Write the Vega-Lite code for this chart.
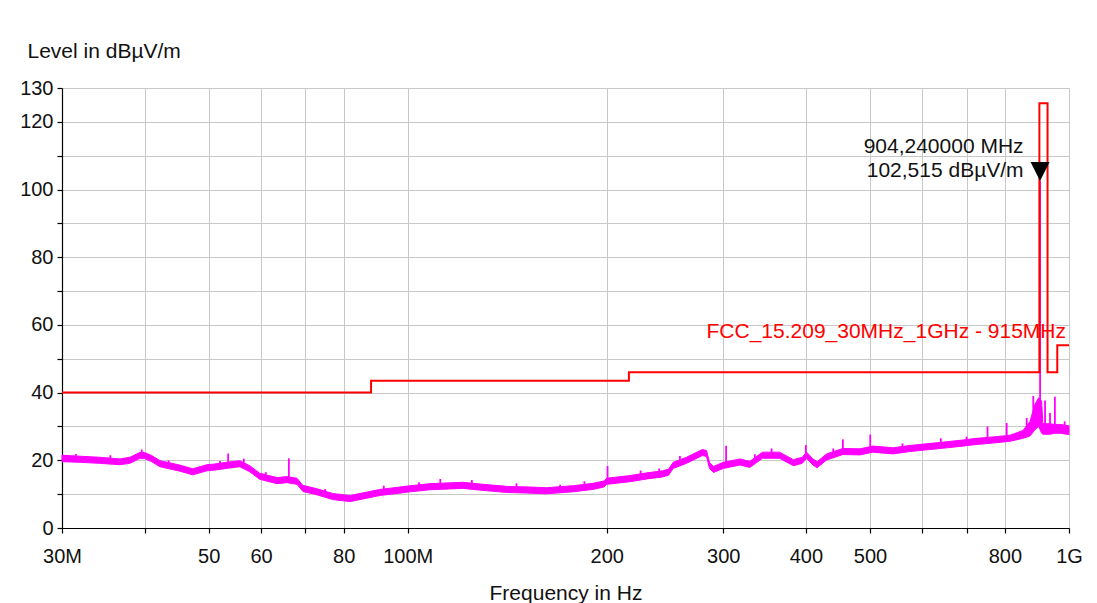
{
  "$schema": "https://vega.github.io/schema/vega-lite/v6.json",
  "autosize": "none",
  "width": 1007,
  "height": 440,
  "padding": {"left": 62, "top": 88, "right": 28, "bottom": 75},
  "background": "white",
  "config": {
    "font": "Liberation Sans",
    "view": {"stroke": null},
    "axis": {
      "gridColor": "#c8c8c8",
      "gridWidth": 1,
      "domainColor": "#000000",
      "domainWidth": 1.2,
      "tickColor": "#000000",
      "tickWidth": 1.2,
      "tickSize": 5,
      "labelFont": "Liberation Sans",
      "labelFontSize": 20,
      "labelColor": "#111111",
      "titleFont": "Liberation Sans",
      "titleFontSize": 21,
      "titleFontWeight": "normal",
      "titleColor": "#111111",
      "labelOverlap": false,
      "labelFlush": false,
      "labelBound": false
    }
  },
  "datasets": {
    "trace": [
      {"f": 30, "lo": 19.6, "hi": 21.5},
      {"f": 32, "lo": 19.4, "hi": 21.2},
      {"f": 34.2, "lo": 19.1, "hi": 20.9},
      {"f": 36.7, "lo": 18.7, "hi": 20.4},
      {"f": 38, "lo": 19.1, "hi": 20.9},
      {"f": 39.3, "lo": 20.5, "hi": 22.3},
      {"f": 40, "lo": 20.5, "hi": 22.3},
      {"f": 41, "lo": 19.6, "hi": 21.4},
      {"f": 42.2, "lo": 18.1, "hi": 19.9},
      {"f": 45.2, "lo": 16.8, "hi": 18.6},
      {"f": 47.3, "lo": 15.7, "hi": 17.5},
      {"f": 49.7, "lo": 16.9, "hi": 18.7},
      {"f": 51, "lo": 17.1, "hi": 18.9},
      {"f": 53.2, "lo": 17.6, "hi": 19.4},
      {"f": 55.7, "lo": 18.1, "hi": 19.9},
      {"f": 57.7, "lo": 16.6, "hi": 18.4},
      {"f": 59.7, "lo": 14.4, "hi": 16.2},
      {"f": 63.4, "lo": 13.1, "hi": 14.9},
      {"f": 65.6, "lo": 13.4, "hi": 15.2},
      {"f": 68, "lo": 12.9, "hi": 14.7},
      {"f": 69.4, "lo": 10.8, "hi": 12.6},
      {"f": 72.9, "lo": 9.8, "hi": 11.6},
      {"f": 77, "lo": 8.4, "hi": 10.2},
      {"f": 81.8, "lo": 7.8, "hi": 9.6},
      {"f": 86.7, "lo": 8.8, "hi": 10.6},
      {"f": 90.7, "lo": 9.6, "hi": 11.4},
      {"f": 97.3, "lo": 10.3, "hi": 12.1},
      {"f": 100, "lo": 10.6, "hi": 12.4},
      {"f": 108, "lo": 11.3, "hi": 13.1},
      {"f": 121, "lo": 11.7, "hi": 13.5},
      {"f": 128.5, "lo": 11.2, "hi": 13},
      {"f": 141, "lo": 10.5, "hi": 12.3},
      {"f": 153, "lo": 10.3, "hi": 12.1},
      {"f": 162, "lo": 10.1, "hi": 11.9},
      {"f": 178, "lo": 10.7, "hi": 12.5},
      {"f": 190.6, "lo": 11.4, "hi": 13.2},
      {"f": 198, "lo": 12.1, "hi": 13.9},
      {"f": 200, "lo": 12.9, "hi": 14.7},
      {"f": 217, "lo": 13.7, "hi": 15.5},
      {"f": 230, "lo": 14.5, "hi": 16.3},
      {"f": 243, "lo": 15.1, "hi": 16.9},
      {"f": 248, "lo": 15.6, "hi": 17.4},
      {"f": 252, "lo": 17.6, "hi": 19.4},
      {"f": 264, "lo": 19.1, "hi": 20.9},
      {"f": 279, "lo": 21.4, "hi": 23.2},
      {"f": 283, "lo": 21.1, "hi": 22.9},
      {"f": 286, "lo": 17.6, "hi": 19.4},
      {"f": 290, "lo": 16.4, "hi": 18.2},
      {"f": 300, "lo": 17.6, "hi": 19.4},
      {"f": 318, "lo": 18.6, "hi": 20.4},
      {"f": 329, "lo": 17.9, "hi": 19.7},
      {"f": 344, "lo": 20.6, "hi": 22.4},
      {"f": 365, "lo": 20.6, "hi": 22.4},
      {"f": 383, "lo": 18.4, "hi": 20.2},
      {"f": 395, "lo": 19.1, "hi": 20.9},
      {"f": 401, "lo": 20.6, "hi": 22.4},
      {"f": 410, "lo": 18.6, "hi": 20.4},
      {"f": 416, "lo": 17.8, "hi": 19.6},
      {"f": 430, "lo": 20.1, "hi": 21.9},
      {"f": 455, "lo": 21.7, "hi": 23.5},
      {"f": 483, "lo": 21.6, "hi": 23.4},
      {"f": 505, "lo": 22.4, "hi": 24.2},
      {"f": 542, "lo": 21.9, "hi": 23.7},
      {"f": 575, "lo": 22.6, "hi": 24.4},
      {"f": 610, "lo": 23.1, "hi": 24.9},
      {"f": 654, "lo": 23.7, "hi": 25.5},
      {"f": 684, "lo": 24.1, "hi": 25.9},
      {"f": 726, "lo": 24.7, "hi": 26.5},
      {"f": 767, "lo": 25.1, "hi": 26.9},
      {"f": 814, "lo": 25.6, "hi": 27.4},
      {"f": 852, "lo": 26.5, "hi": 28.8},
      {"f": 873, "lo": 27.2, "hi": 31.5},
      {"f": 888, "lo": 29, "hi": 36.5},
      {"f": 900, "lo": 30, "hi": 38.5},
      {"f": 909, "lo": 28, "hi": 37.5},
      {"f": 913, "lo": 27.7, "hi": 30.8},
      {"f": 936, "lo": 27.7, "hi": 30.8},
      {"f": 952, "lo": 28, "hi": 30.6},
      {"f": 969, "lo": 28, "hi": 30.6},
      {"f": 1000, "lo": 27.6, "hi": 30.2}
    ],
    "spikes": [
      {"f": 31.5, "base": 20, "top": 21.9},
      {"f": 35.5, "base": 19.5, "top": 21.5},
      {"f": 39.6, "base": 21, "top": 23.2},
      {"f": 43.5, "base": 18.5, "top": 20},
      {"f": 48.5, "base": 16.5, "top": 18.2},
      {"f": 52, "base": 17.5, "top": 19.8},
      {"f": 53.5, "base": 19, "top": 22},
      {"f": 56.5, "base": 18.5, "top": 20.5},
      {"f": 61, "base": 14.5, "top": 16.5},
      {"f": 66.1, "base": 14, "top": 20.6},
      {"f": 75, "base": 9.5, "top": 11.5},
      {"f": 92, "base": 10.5, "top": 12.5},
      {"f": 104, "base": 11.5, "top": 13.5},
      {"f": 112, "base": 12.5, "top": 14.5},
      {"f": 125, "base": 12.5, "top": 14.2},
      {"f": 146, "base": 11.5, "top": 13.2},
      {"f": 170, "base": 11, "top": 12.8},
      {"f": 185, "base": 12, "top": 13.8},
      {"f": 200.5, "base": 13.5, "top": 18.3},
      {"f": 225, "base": 15, "top": 17},
      {"f": 240, "base": 15.5, "top": 17.6},
      {"f": 258, "base": 19, "top": 21.3},
      {"f": 303, "base": 18.5, "top": 24.3},
      {"f": 335, "base": 19.5, "top": 21.8},
      {"f": 355, "base": 21.5, "top": 23.5},
      {"f": 400, "base": 21.5, "top": 24.5},
      {"f": 440, "base": 21.5, "top": 23.5},
      {"f": 455, "base": 22.5, "top": 26.2},
      {"f": 500.5, "base": 23, "top": 27.6},
      {"f": 560, "base": 23, "top": 25},
      {"f": 640, "base": 24.5, "top": 26.5},
      {"f": 700, "base": 25, "top": 27},
      {"f": 753, "base": 26, "top": 30},
      {"f": 805, "base": 26.5, "top": 31},
      {"f": 863, "base": 28, "top": 32.5},
      {"f": 883, "base": 30, "top": 39},
      {"f": 904.24, "base": 33, "top": 102.515},
      {"f": 920, "base": 29, "top": 37.7},
      {"f": 936, "base": 29, "top": 34},
      {"f": 952, "base": 29, "top": 38.8},
      {"f": 985, "base": 29, "top": 31.5}
    ],
    "limit": [
      {"f": 30, "level": 40},
      {"f": 88, "level": 43.5},
      {"f": 216, "level": 46},
      {"f": 902, "level": 125.5},
      {"f": 928, "level": 46},
      {"f": 960, "level": 54},
      {"f": 1000, "level": 54}
    ],
    "marker": [
      {"f": 904.24, "level": 102.515}
    ],
    "limitLabel": [
      {"f": 1000, "level": 54, "name": "FCC_15.209_30MHz_1GHz - 915MHz"}
    ]
  },
  "layer": [
    {
      "data": {"name": "trace"},
      "mark": {"type": "area", "color": "#ff00ff", "opacity": 1, "stroke": "#ff00ff", "strokeWidth": 1},
      "encoding": {
        "x": {
          "field": "f", "type": "quantitative",
          "scale": {"type": "log", "domain": [30, 1000], "nice": false, "zero": false},
          "axis": {
            "values": [30, 40, 50, 60, 70, 80, 100, 200, 300, 400, 500, 600, 700, 800, 1000],
            "tickCount": 40,
            "labelExpr": "datum.value == 30 ? '30M' : datum.value == 100 ? '100M' : datum.value == 1000 ? '1G' : (indexof([40, 70, 600, 700], datum.value) >= 0 ? '' : format(datum.value, 'd'))",
            "labelPadding": 13,
            "title": "Frequency in Hz",
            "titleY": 71,
            "titleBaseline": "alphabetic"
          }
        },
        "y": {
          "field": "lo", "type": "quantitative",
          "scale": {"domain": [0, 130], "nice": false},
          "axis": {
            "values": [0, 10, 20, 30, 40, 50, 60, 70, 80, 90, 100, 110, 120, 130],
            "tickCount": 40,
            "labelExpr": "indexof([0, 20, 40, 60, 80, 100, 120, 130], datum.value) >= 0 ? format(datum.value, 'd') : ''",
            "labelPadding": 4,
            "title": "Level in dBµV/m",
            "titleAngle": 0,
            "titleAlign": "left",
            "titleBaseline": "alphabetic",
            "titleX": -35,
            "titleY": -31
          }
        },
        "y2": {"field": "hi"}
      }
    },
    {
      "data": {"name": "spikes"},
      "mark": {"type": "rule", "color": "#ff00ff", "strokeWidth": 1.8},
      "encoding": {
        "x": {"field": "f", "type": "quantitative"},
        "y": {"field": "base", "type": "quantitative"},
        "y2": {"field": "top"}
      }
    },
    {
      "data": {"name": "limit"},
      "mark": {"type": "line", "color": "#ff0000", "strokeWidth": 2, "interpolate": "step-after"},
      "encoding": {
        "x": {"field": "f", "type": "quantitative"},
        "y": {"field": "level", "type": "quantitative"}
      }
    },
    {
      "data": {"name": "limitLabel"},
      "mark": {"type": "text", "color": "#ff0000", "fontSize": 21, "font": "Liberation Sans", "align": "right", "baseline": "alphabetic", "dx": -3, "dy": -7.5},
      "encoding": {
        "x": {"field": "f", "type": "quantitative"},
        "y": {"field": "level", "type": "quantitative"},
        "text": {"field": "name"}
      }
    },
    {
      "data": {"name": "marker"},
      "mark": {"type": "point", "shape": "M-1,-1L1,-1L0,1Z", "size": 361, "filled": true, "color": "#000000", "opacity": 1, "yOffset": -9.5},
      "encoding": {
        "x": {"field": "f", "type": "quantitative"},
        "y": {"field": "level", "type": "quantitative"}
      }
    },
    {
      "data": {"name": "marker"},
      "mark": {"type": "text", "text": "904,240000 MHz", "color": "#111111", "fontSize": 21, "font": "Liberation Sans", "align": "right", "baseline": "alphabetic", "dx": -16.5, "dy": -28.5},
      "encoding": {
        "x": {"field": "f", "type": "quantitative"},
        "y": {"field": "level", "type": "quantitative"}
      }
    },
    {
      "data": {"name": "marker"},
      "mark": {"type": "text", "text": "102,515 dBµV/m", "color": "#111111", "fontSize": 21, "font": "Liberation Sans", "align": "right", "baseline": "alphabetic", "dx": -16.5, "dy": -4},
      "encoding": {
        "x": {"field": "f", "type": "quantitative"},
        "y": {"field": "level", "type": "quantitative"}
      }
    }
  ]
}
